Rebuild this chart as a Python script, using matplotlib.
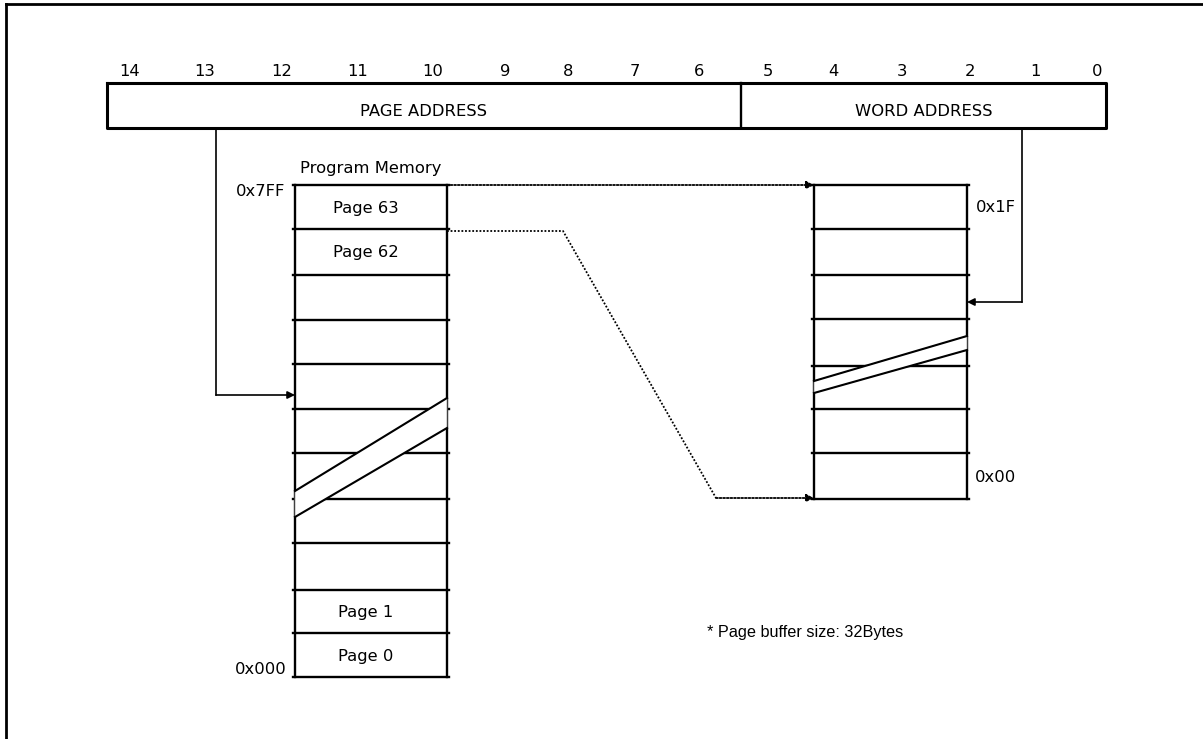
import matplotlib.pyplot as plt
from matplotlib.patches import Polygon

W, H = 1203, 739

# labels
bit_labels = [str(b) for b in range(14, -1, -1)]
bit_x = [130, 205, 282, 358, 433, 505, 568, 635, 699, 768, 833, 902, 970, 1035, 1097]
field_names = ['PAGE ADDRESS', 'WORD ADDRESS']
page_labels = ['Page 63', 'Page 62', '', '', '', '', '', '', '', 'Page 1', 'Page 0']
addr_left = ['0x7FF', '0x000']
addr_right = ['0x1F', '0x00']
note = '* Page buffer size: 32Bytes'

# row boundaries (pixel y)
left_rows = [185, 229, 275, 320, 364, 409, 453, 499, 543, 590, 633, 677]
right_rows = [185, 229, 275, 319, 366, 409, 453, 499]

font = 11.8
lw = 1.7

fig = plt.figure(figsize=(W / 100, H / 100), dpi=100)
ax = fig.add_axes([0, 0, 1, 1])
ax.set_xlim(0, W)
ax.set_ylim(H, 0)
ax.axis('off')

# outer frame (only top and left visible)
ax.plot([6, W + 5], [4, 4], color='black', lw=2)
ax.plot([6, 6], [4, H + 5], color='black', lw=2)

# address bar
bx0, bx1, by0, by1, bdiv = 107, 1106, 83, 128, 741
ax.plot([bx0, bx1, bx1, bx0, bx0], [by0, by0, by1, by1, by0], color='black', lw=2.2)
ax.plot([bdiv, bdiv], [by0, by1], color='black', lw=1.7)
ax.text((bx0 + bdiv) / 2, 111, field_names[0], ha='center', va='center', fontsize=font)
ax.text((bdiv + bx1) / 2, 111, field_names[1], ha='center', va='center', fontsize=font)
for lab, x in zip(bit_labels, bit_x):
    ax.text(x, 71, lab, ha='center', va='center', fontsize=font)


def draw_block(x0, x1, rows):
    for y in rows:
        ax.plot([x0 - 2, x1 + 2], [y, y], color='black', lw=lw, zorder=2)
    ax.plot([x0, x0], [rows[0], rows[-1]], color='black', lw=lw, zorder=2)
    ax.plot([x1, x1], [rows[0], rows[-1]], color='black', lw=lw, zorder=2)


def draw_break(x0, x1, up, lo):
    # up/lo: (y at x0, y at x1) for upper and lower edge of the break band
    band = Polygon([(x0, up[0]), (x1, up[1]), (x1, lo[1]), (x0, lo[0])],
                   closed=True, facecolor='white', edgecolor='#999999', lw=0.6, zorder=3)
    ax.add_patch(band)
    ax.plot([x0, x1], [up[0], up[1]], color='black', lw=1.5, zorder=4)
    ax.plot([x0, x1], [lo[0], lo[1]], color='black', lw=1.5, zorder=4)


# program memory block
lx0, lx1 = 295, 447
draw_block(lx0, lx1, left_rows)
draw_break(lx0, lx1, (491, 398), (517, 428))
ax.text(371, 168, 'Program Memory', ha='center', va='center', fontsize=font)
for i, lab in enumerate(page_labels):
    if lab:
        ax.text(366, (left_rows[i] + left_rows[i + 1]) / 2 + 1, lab,
                ha='center', va='center', fontsize=font)
ax.text(261, 192, addr_left[0], ha='center', va='center', fontsize=font)
ax.text(261, 670, addr_left[1], ha='center', va='center', fontsize=font)

# page buffer block
rx0, rx1 = 814, 967
draw_block(rx0, rx1, right_rows)
draw_break(rx0, rx1, (381, 336), (393, 350))
ax.text(996, 208, addr_right[0], ha='center', va='center', fontsize=font)
ax.text(996, 478, addr_right[1], ha='center', va='center', fontsize=font)

arrow = dict(arrowstyle='-|>', color='black', lw=1.2, mutation_scale=11,
             shrinkA=0, shrinkB=0)

# page address pointer
ax.plot([216, 216], [by1, 395], color='black', lw=1.2)
ax.annotate('', xy=(lx0, 395), xytext=(216, 395), arrowprops=arrow)

# word address pointer
ax.plot([1022, 1022], [by1, 302], color='black', lw=1.2)
ax.annotate('', xy=(rx1, 302), xytext=(1022, 302), arrowprops=arrow)

# dotted mapping lines
dot = dict(arrowstyle='-|>', color='black', lw=1.3, mutation_scale=11,
           shrinkA=0, shrinkB=0, linestyle=(0, (1, 1)))
ax.annotate('', xy=(rx0, 185), xytext=(lx1, 185), arrowprops=dot)
ax.plot([lx1, 563, 716], [231, 231, 498], color='black', lw=1.3, linestyle=(0, (1, 1)))
ax.annotate('', xy=(rx0, 498), xytext=(716, 498), arrowprops=dot)

ax.text(707, 633, note, ha='left', va='center', fontsize=11.7, family='Liberation Sans')

fig.savefig('out.png', dpi=100)
